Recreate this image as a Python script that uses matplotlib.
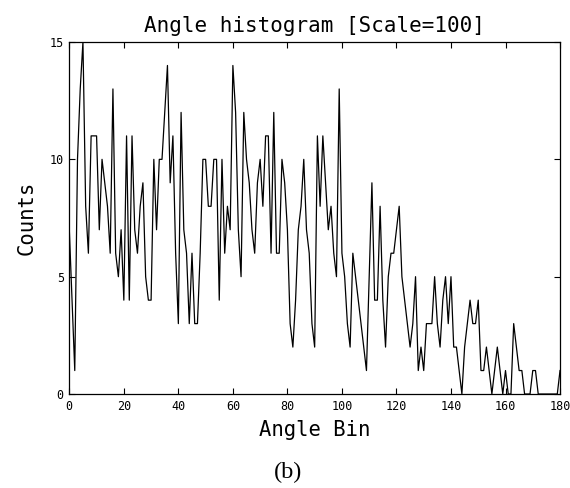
import numpy as np
import matplotlib
matplotlib.use('Agg')
import matplotlib.pyplot as plt

# angle histogram counts, bins 0..180
counts_0_39 = [7, 4, 1, 10, 13, 15, 8, 6, 11, 11, 11, 7, 10, 9, 8, 6, 13, 6, 5, 7,
               4, 11, 4, 11, 7, 6, 8, 9, 5, 4, 4, 10, 7, 10, 10, 12, 14, 9, 11, 6]
counts_40_79 = [3, 12, 7, 6, 3, 6, 3, 3, 6, 10, 10, 8, 8, 10, 10, 4, 10, 6, 8, 7,
                14, 12, 7, 5, 12, 10, 9, 7, 6, 9, 10, 8, 11, 11, 6, 12, 6, 6, 10, 9]
counts_80_119 = [7, 3, 2, 4, 7, 8, 10, 7, 6, 3, 2, 11, 8, 11, 9, 7, 8, 6, 5, 13,
                 6, 5, 3, 2, 6, 5, 4, 3, 2, 1, 5, 9, 4, 4, 8, 4, 2, 5, 6, 6]
counts_120_159 = [7, 8, 5, 4, 3, 2, 3, 5, 1, 2, 1, 3, 3, 3, 5, 3, 2, 4, 5, 3,
                  5, 2, 2, 1, 0, 2, 3, 4, 3, 3, 4, 1, 1, 2, 1, 0, 1, 2, 1, 0]
counts_160_180 = [1, 0, 0, 3, 2, 1, 1, 0, 0, 0, 1, 1, 0, 0, 0, 0, 0, 0, 0, 0, 1]

counts = counts_0_39 + counts_40_79 + counts_80_119 + counts_120_159 + counts_160_180
bins = np.arange(len(counts))

xticks = [0, 20, 40, 60, 80, 100, 120, 140, 160, 180]
yticks = [0, 5, 10, 15]

mono = 'DejaVu Sans Mono'

fig = plt.figure(figsize=(5.7, 4.88), dpi=100)
ax = fig.add_axes([0.1216, 0.1926, 0.8609, 0.7213])

ax.plot(bins, counts, color='k', linewidth=0.9)

ax.set_xlim(0, 180)
ax.set_ylim(0, 15)
ax.set_xticks(xticks)
ax.set_yticks(yticks)
ax.tick_params(direction='in', top=True, right=True, labelsize=8.5, length=4, width=0.8, pad=4)
for lab in ax.get_xticklabels() + ax.get_yticklabels():
    lab.set_family(mono)
for s in ax.spines.values():
    s.set_linewidth(0.9)

ax.set_title('Angle histogram [Scale=100]', fontsize=15, family=mono, pad=7)
ax.set_xlabel('Angle Bin', fontsize=14.8, family=mono, labelpad=5)
ax.set_ylabel('Counts', fontsize=14.8, family=mono, labelpad=9)

fig.text(0.505, 0.02, '(b)', fontsize=17.5, family='Liberation Serif',
         ha='center', va='baseline')

fig.savefig('out.png', dpi=100)
